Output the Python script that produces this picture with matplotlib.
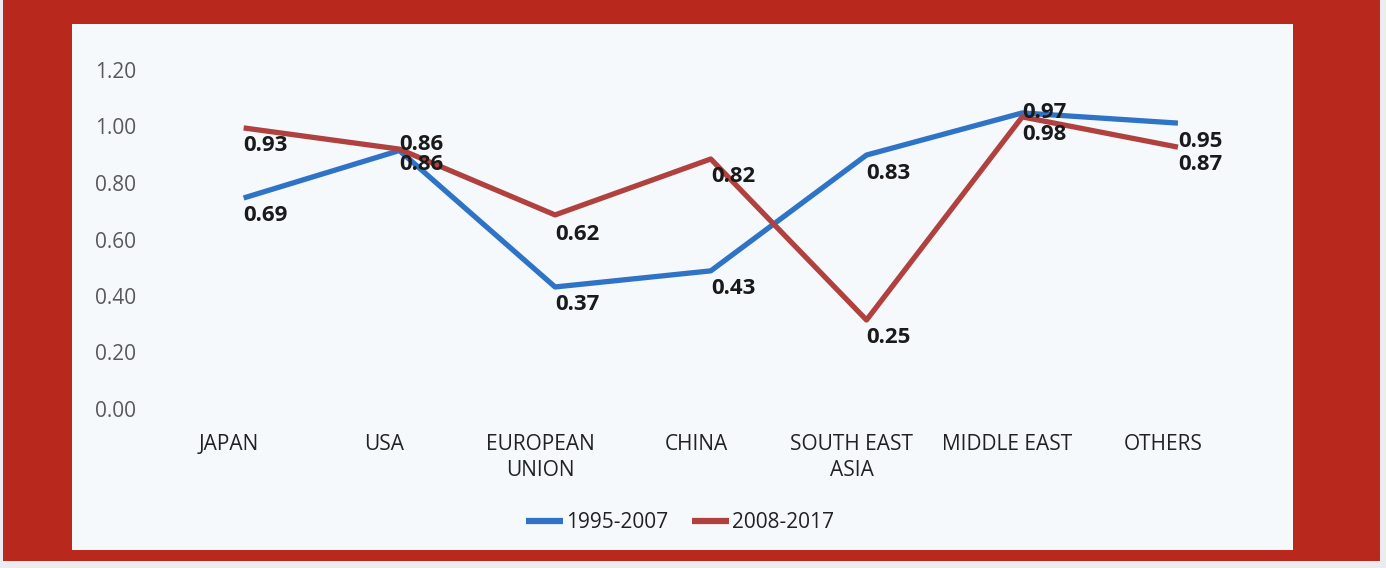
import matplotlib
matplotlib.use("Agg")
import matplotlib.pyplot as plt
from matplotlib.patches import Rectangle
import numpy as np

categories = ["JAPAN", "USA", "EUROPEAN\nUNION", "CHINA", "SOUTH EAST\nASIA", "MIDDLE EAST", "OTHERS"]
series_names = ["1995-2007", "2008-2017"]
# plotted positions of the lines (as drawn in the picture)
blue_values = [0.747, 0.915, 0.432, 0.489, 0.899, 1.048, 1.012]
red_values = [0.995, 0.920, 0.687, 0.885, 0.315, 1.034, 0.927]
# data labels as printed
blue_labels = ["0.69", "0.86", "0.37", "0.43", "0.83", "0.97", "0.95"]
red_labels = ["0.93", "0.86", "0.62", "0.82", "0.25", "0.98", "0.87"]
y_ticks = [0.0, 0.2, 0.4, 0.6, 0.8, 1.0, 1.2]

BLUE = "#2f73c6"
RED = "#b0413e"
BORDER = "#b8281c"
PANEL = "#f5f9fc"
FONT = ["Open Sans", "DejaVu Sans"]

W, H = 1386, 568
fig = plt.figure(figsize=(W / 100, H / 100), dpi=100)
fig.patch.set_facecolor("#ecebef")

def fx(px):
    return px / W

def fy(py):
    return 1 - py / H

# red frame and inner panel
fig.patches.append(Rectangle((fx(3), fy(561)), fx(1380) - fx(3), fy(0) - fy(561),
                             transform=fig.transFigure, facecolor=BORDER, edgecolor="none", zorder=0))
fig.patches.append(Rectangle((fx(72), fy(550)), fx(1293) - fx(72), fy(24) - fy(550),
                             transform=fig.transFigure, facecolor=PANEL, edgecolor="none", zorder=1))

ax_left, ax_right = 151, 1241
ax_top, ax_bottom = 70, 409
ax = fig.add_axes([fx(ax_left), fy(ax_bottom), fx(ax_right) - fx(ax_left), fy(ax_top) - fy(ax_bottom)])
ax.set_facecolor("none")
ax.set_zorder(2)

x = np.arange(len(categories))
shift = 0.095  # lines are drawn slightly right of the category labels in the source
ax.plot(x + shift, blue_values, color=BLUE, lw=3.8, solid_capstyle="butt", label=series_names[0], zorder=3)
ax.plot(x + shift, red_values, color=RED, lw=3.8, solid_capstyle="butt", label=series_names[1], zorder=3)

ax.set_xlim(-0.5, len(categories) - 0.5)
ax.set_ylim(0, 1.2)
ax.set_yticks(y_ticks)
ax.set_yticklabels([f"{v:.2f}" for v in y_ticks], family=FONT, fontsize=15, color="#595959")
ax.set_xticks(x)
ax.set_xticklabels(categories, family=FONT, fontsize=15, color="#222222", linespacing=1.3, va="top")
ax.tick_params(axis="both", length=0)
ax.tick_params(axis="y", pad=11)
ax.tick_params(axis="x", pad=18)
for s in ax.spines.values():
    s.set_visible(False)

# data label offsets (points): default below-right of the point
default_off = -12.5
blue_off = {1: -10, 5: 0, 4: -13.5, 6: -13.5}
red_off = {1: 3, 2: -14}
for i, (v, lab) in enumerate(zip(blue_values, blue_labels)):
    ax.annotate(lab, (x[i] + shift, v), xytext=(0, blue_off.get(i, default_off)), textcoords="offset points",
                ha="left", va="center", family=FONT, fontsize=16, fontweight="bold", color="#1a1a1a", zorder=4)
for i, (v, lab) in enumerate(zip(red_values, red_labels)):
    ax.annotate(lab, (x[i] + shift, v), xytext=(0, red_off.get(i, default_off)), textcoords="offset points",
                ha="left", va="center", family=FONT, fontsize=16, fontweight="bold", color="#1a1a1a", zorder=4)

leg = fig.legend(loc="center", bbox_to_anchor=(fx(680), fy(523)), ncol=2, frameon=False,
                 prop={"family": FONT, "size": 15}, handlelength=1.8, handletextpad=0.15,
                 columnspacing=1.1)
for t in leg.get_texts():
    t.set_color("#222222")
for h in leg.get_lines():
    h.set_linewidth(4.5)

fig.savefig("out.png", dpi=100, facecolor=fig.get_facecolor())
